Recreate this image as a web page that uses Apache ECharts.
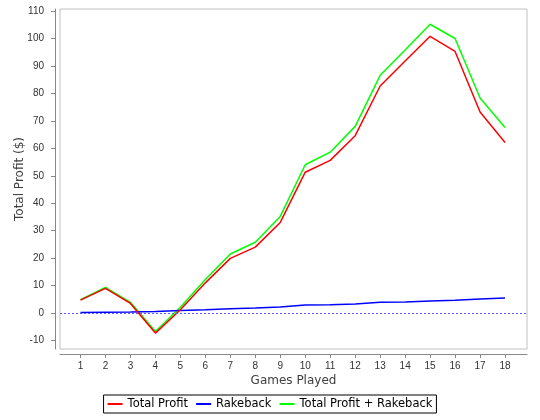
<!DOCTYPE html>
<html>
<head>
<meta charset="utf-8">
<script src="https://cdn.jsdelivr.net/npm/echarts@6/dist/echarts.min.js"></script>
<style>
  html, body { margin: 0; padding: 0; background: #fff; }
  #chart { width: 540px; height: 420px; }
</style>
</head>
<body>
<div id="chart"></div>
<script>
// Games played (x positions) and running results per game, in dollars
var games = [1, 2, 3, 4, 5, 6, 7, 8, 9, 10, 11, 12, 13, 14, 15, 16, 17, 18];
var totalProfit = [4.7, 9.0, 3.5, -7.3, 1.2, 11.0, 19.9, 24.0, 33.0, 51.3, 55.6, 64.6, 82.7, 91.8, 100.8, 95.3, 73.2, 62.1];
var rakeback = [0.2, 0.3, 0.4, 0.6, 0.9, 1.2, 1.6, 1.8, 2.2, 2.9, 3.0, 3.3, 3.9, 4.0, 4.4, 4.7, 5.1, 5.5];
var profitPlusRakeback = [4.9, 9.3, 3.9, -6.7, 2.1, 12.2, 21.5, 25.8, 35.2, 54.0, 58.6, 68.0, 86.6, 95.8, 105.2, 100.0, 78.3, 67.6];
var yTicks = [-10, 0, 10, 20, 30, 40, 50, 60, 70, 80, 90, 100, 110];
var seriesNames = ['Total Profit', 'Rakeback', 'Total Profit + Rakeback'];

function pairs(values) {
  return games.map(function (g, i) { return [g, values[i]]; });
}

var font = 'DejaVu Sans';
var chart = echarts.init(document.getElementById('chart'), null, { renderer: 'canvas' });

chart.setOption({
  animation: false,
  backgroundColor: '#ffffff',
  grid: {
    left: 60, right: 13, top: 9, bottom: 71,
    show: true, backgroundColor: '#ffffff',
    borderColor: '#c0c0c0', borderWidth: 1
  },
  xAxis: {
    type: 'value',
    min: 0.18, max: 18.88,
    offset: 5,
    name: 'Games Played',
    nameLocation: 'middle',
    nameGap: 21,
    nameMoveOverlap: false,
    nameTextStyle: { fontFamily: font, fontSize: 12, color: '#404040' },
    axisLine: { show: true, onZero: false, lineStyle: { color: '#888888', width: 1 } },
    axisTick: { show: true, length: 4, inside: false, customValues: games, lineStyle: { color: '#888888' } },
    axisLabel: {
      customValues: games, margin: 7,
      fontFamily: 'Liberation Sans', fontSize: 10, color: '#333333',
      formatter: function (v) { return String(v); }
    },
    splitLine: { show: false }
  },
  yAxis: {
    type: 'value',
    min: -13.1, max: 110.75,
    offset: 5,
    name: 'Total Profit ($)',
    nameLocation: 'middle',
    nameGap: 29,
    nameMoveOverlap: false,
    nameRotate: 90,
    nameTextStyle: { fontFamily: font, fontSize: 12, color: '#404040' },
    axisLine: { show: true, onZero: false, lineStyle: { color: '#888888', width: 1 } },
    axisTick: { show: true, length: 4, customValues: yTicks, lineStyle: { color: '#888888' } },
    axisLabel: {
      customValues: yTicks, margin: 11,
      fontFamily: 'Liberation Sans', fontSize: 10, color: '#333333',
      formatter: function (v) { return String(v); }
    },
    splitLine: { show: false }
  },
  legend: {
    data: seriesNames,
    left: 'center',
    top: 395,
    padding: [3, 4, 3, 4],
    borderColor: '#000000',
    borderWidth: 1,
    itemGap: 8,
    itemWidth: 15,
    itemHeight: 2,
    icon: 'rect',
    textStyle: { fontFamily: font, fontSize: 11.5, color: '#000000' }
  },
  series: [
    {
      name: seriesNames[0], type: 'line', data: pairs(totalProfit),
      symbol: 'none', z: 4,
      itemStyle: { color: '#ff0000' },
      lineStyle: { color: '#ff0000', width: 1.5 }
    },
    {
      name: seriesNames[1], type: 'line', data: pairs(rakeback),
      symbol: 'none', z: 3,
      itemStyle: { color: '#0000ff' },
      lineStyle: { color: '#0000ff', width: 1.5 },
      markLine: {
        silent: true, symbol: 'none', label: { show: false },
        emphasis: { disabled: true },
        lineStyle: { color: '#5a5aff', opacity: 1, type: [2, 2], width: 1 },
        data: [{ yAxis: 0 }]
      }
    },
    {
      name: seriesNames[2], type: 'line', data: pairs(profitPlusRakeback),
      symbol: 'none', z: 2,
      itemStyle: { color: '#00ff00' },
      lineStyle: { color: '#00ff00', width: 1.5 }
    }
  ]
});
</script>
</body>
</html>
